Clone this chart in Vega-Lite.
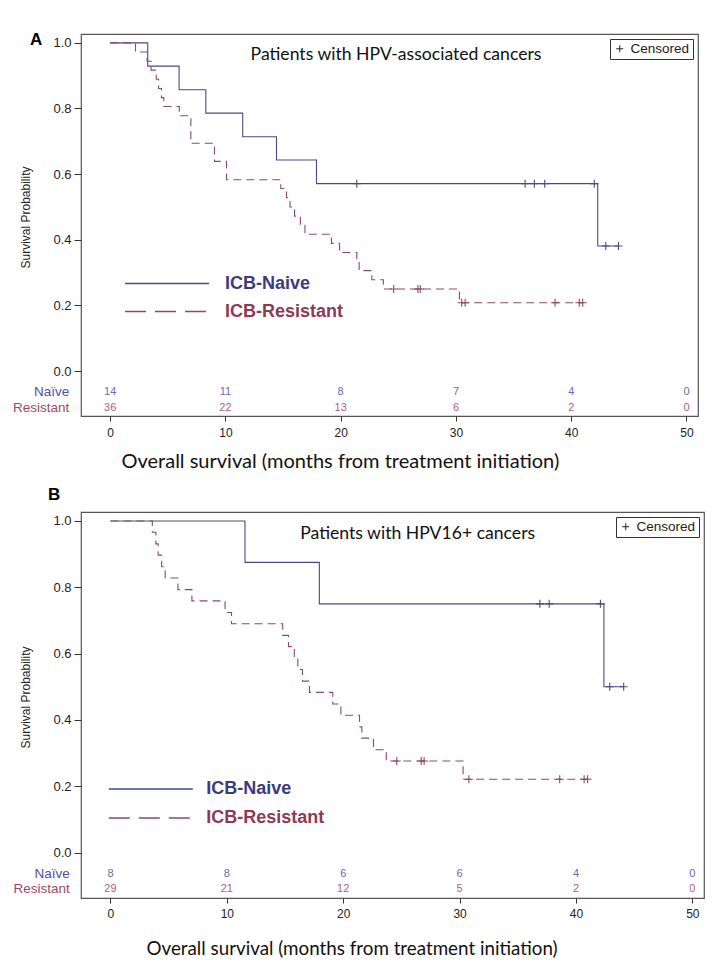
{
  "$schema": "https://vega.github.io/schema/vega-lite/v6.json",
  "padding": {"left": 12, "top": 30, "right": 20, "bottom": 6},
  "background": "white",
  "spacing": 13,
  "config": {
    "view": {"stroke": "#555", "strokeWidth": 1.2},
    "font": "Liberation Sans",
    "axis": {"grid": false, "domain": false, "tickColor": "#333", "labelColor": "#222", "titleFontWeight": "normal"}
  },
  "datasets": {
    "curves": [
      {"panel": "A", "group": "ICB-Naive", "time": 0, "surv": 1.0},
      {"panel": "A", "group": "ICB-Naive", "time": 3.26, "surv": 0.929},
      {"panel": "A", "group": "ICB-Naive", "time": 5.98, "surv": 0.857},
      {"panel": "A", "group": "ICB-Naive", "time": 8.3, "surv": 0.786},
      {"panel": "A", "group": "ICB-Naive", "time": 11.5, "surv": 0.714},
      {"panel": "A", "group": "ICB-Naive", "time": 14.43, "surv": 0.643},
      {"panel": "A", "group": "ICB-Naive", "time": 17.9, "surv": 0.571},
      {"panel": "A", "group": "ICB-Naive", "time": 42.3, "surv": 0.381},
      {"panel": "A", "group": "ICB-Naive", "time": 44.1, "surv": 0.381},
      {"panel": "A", "group": "ICB-Resistant", "time": 0, "surv": 1.0},
      {"panel": "A", "group": "ICB-Resistant", "time": 2.2, "surv": 0.972},
      {"panel": "A", "group": "ICB-Resistant", "time": 3.2, "surv": 0.944},
      {"panel": "A", "group": "ICB-Resistant", "time": 3.55, "surv": 0.917},
      {"panel": "A", "group": "ICB-Resistant", "time": 4.0, "surv": 0.889},
      {"panel": "A", "group": "ICB-Resistant", "time": 4.2, "surv": 0.861},
      {"panel": "A", "group": "ICB-Resistant", "time": 4.45, "surv": 0.833},
      {"panel": "A", "group": "ICB-Resistant", "time": 4.65, "surv": 0.806},
      {"panel": "A", "group": "ICB-Resistant", "time": 6.0, "surv": 0.778},
      {"panel": "A", "group": "ICB-Resistant", "time": 7.0, "surv": 0.694},
      {"panel": "A", "group": "ICB-Resistant", "time": 9.05, "surv": 0.639},
      {"panel": "A", "group": "ICB-Resistant", "time": 10.1, "surv": 0.583},
      {"panel": "A", "group": "ICB-Resistant", "time": 14.8, "surv": 0.556},
      {"panel": "A", "group": "ICB-Resistant", "time": 15.3, "surv": 0.528},
      {"panel": "A", "group": "ICB-Resistant", "time": 15.6, "surv": 0.5},
      {"panel": "A", "group": "ICB-Resistant", "time": 16.0, "surv": 0.472},
      {"panel": "A", "group": "ICB-Resistant", "time": 16.5, "surv": 0.444},
      {"panel": "A", "group": "ICB-Resistant", "time": 16.9, "surv": 0.417},
      {"panel": "A", "group": "ICB-Resistant", "time": 19.2, "surv": 0.389},
      {"panel": "A", "group": "ICB-Resistant", "time": 19.9, "surv": 0.361},
      {"panel": "A", "group": "ICB-Resistant", "time": 21.4, "surv": 0.333},
      {"panel": "A", "group": "ICB-Resistant", "time": 21.6, "surv": 0.306},
      {"panel": "A", "group": "ICB-Resistant", "time": 22.7, "surv": 0.278},
      {"panel": "A", "group": "ICB-Resistant", "time": 23.7, "surv": 0.25},
      {"panel": "A", "group": "ICB-Resistant", "time": 30.3, "surv": 0.208},
      {"panel": "A", "group": "ICB-Resistant", "time": 41.0, "surv": 0.208},
      {"panel": "B", "group": "ICB-Naive", "time": 0, "surv": 1.0},
      {"panel": "B", "group": "ICB-Naive", "time": 11.56, "surv": 0.875},
      {"panel": "B", "group": "ICB-Naive", "time": 17.95, "surv": 0.75},
      {"panel": "B", "group": "ICB-Naive", "time": 42.4, "surv": 0.5},
      {"panel": "B", "group": "ICB-Naive", "time": 44.1, "surv": 0.5},
      {"panel": "B", "group": "ICB-Resistant", "time": 0, "surv": 1.0},
      {"panel": "B", "group": "ICB-Resistant", "time": 3.6, "surv": 0.966},
      {"panel": "B", "group": "ICB-Resistant", "time": 3.9, "surv": 0.931},
      {"panel": "B", "group": "ICB-Resistant", "time": 4.1, "surv": 0.897},
      {"panel": "B", "group": "ICB-Resistant", "time": 4.4, "surv": 0.862},
      {"panel": "B", "group": "ICB-Resistant", "time": 4.7, "surv": 0.828},
      {"panel": "B", "group": "ICB-Resistant", "time": 5.8, "surv": 0.793},
      {"panel": "B", "group": "ICB-Resistant", "time": 7.0, "surv": 0.759},
      {"panel": "B", "group": "ICB-Resistant", "time": 9.85, "surv": 0.724},
      {"panel": "B", "group": "ICB-Resistant", "time": 10.4, "surv": 0.69},
      {"panel": "B", "group": "ICB-Resistant", "time": 14.8, "surv": 0.655},
      {"panel": "B", "group": "ICB-Resistant", "time": 15.3, "surv": 0.621},
      {"panel": "B", "group": "ICB-Resistant", "time": 15.8, "surv": 0.586},
      {"panel": "B", "group": "ICB-Resistant", "time": 16.1, "surv": 0.552},
      {"panel": "B", "group": "ICB-Resistant", "time": 16.5, "surv": 0.517},
      {"panel": "B", "group": "ICB-Resistant", "time": 17.1, "surv": 0.483},
      {"panel": "B", "group": "ICB-Resistant", "time": 19.1, "surv": 0.448},
      {"panel": "B", "group": "ICB-Resistant", "time": 19.8, "surv": 0.414},
      {"panel": "B", "group": "ICB-Resistant", "time": 21.4, "surv": 0.379},
      {"panel": "B", "group": "ICB-Resistant", "time": 21.6, "surv": 0.345},
      {"panel": "B", "group": "ICB-Resistant", "time": 22.6, "surv": 0.31},
      {"panel": "B", "group": "ICB-Resistant", "time": 23.7, "surv": 0.276},
      {"panel": "B", "group": "ICB-Resistant", "time": 30.3, "surv": 0.221},
      {"panel": "B", "group": "ICB-Resistant", "time": 41.0, "surv": 0.221}
    ],
    "censored": [
      {"panel": "A", "group": "ICB-Naive", "status": "Censored", "time": 21.4, "surv": 0.571},
      {"panel": "A", "group": "ICB-Naive", "status": "Censored", "time": 36.0, "surv": 0.571},
      {"panel": "A", "group": "ICB-Naive", "status": "Censored", "time": 36.8, "surv": 0.571},
      {"panel": "A", "group": "ICB-Naive", "status": "Censored", "time": 37.7, "surv": 0.571},
      {"panel": "A", "group": "ICB-Naive", "status": "Censored", "time": 42.0, "surv": 0.571},
      {"panel": "A", "group": "ICB-Naive", "status": "Censored", "time": 43.0, "surv": 0.381},
      {"panel": "A", "group": "ICB-Naive", "status": "Censored", "time": 44.1, "surv": 0.381},
      {"panel": "A", "group": "ICB-Resistant", "status": "Censored", "time": 24.6, "surv": 0.25},
      {"panel": "A", "group": "ICB-Resistant", "status": "Censored", "time": 26.7, "surv": 0.25},
      {"panel": "A", "group": "ICB-Resistant", "status": "Censored", "time": 26.9, "surv": 0.25},
      {"panel": "A", "group": "ICB-Resistant", "status": "Censored", "time": 30.5, "surv": 0.208},
      {"panel": "A", "group": "ICB-Resistant", "status": "Censored", "time": 30.8, "surv": 0.208},
      {"panel": "A", "group": "ICB-Resistant", "status": "Censored", "time": 38.6, "surv": 0.208},
      {"panel": "A", "group": "ICB-Resistant", "status": "Censored", "time": 40.7, "surv": 0.208},
      {"panel": "A", "group": "ICB-Resistant", "status": "Censored", "time": 41.0, "surv": 0.208},
      {"panel": "B", "group": "ICB-Naive", "status": "Censored", "time": 36.9, "surv": 0.75},
      {"panel": "B", "group": "ICB-Naive", "status": "Censored", "time": 37.7, "surv": 0.75},
      {"panel": "B", "group": "ICB-Naive", "status": "Censored", "time": 42.1, "surv": 0.75},
      {"panel": "B", "group": "ICB-Naive", "status": "Censored", "time": 42.9, "surv": 0.5},
      {"panel": "B", "group": "ICB-Naive", "status": "Censored", "time": 44.1, "surv": 0.5},
      {"panel": "B", "group": "ICB-Resistant", "status": "Censored", "time": 24.6, "surv": 0.276},
      {"panel": "B", "group": "ICB-Resistant", "status": "Censored", "time": 26.7, "surv": 0.276},
      {"panel": "B", "group": "ICB-Resistant", "status": "Censored", "time": 26.95, "surv": 0.276},
      {"panel": "B", "group": "ICB-Resistant", "status": "Censored", "time": 30.8, "surv": 0.221},
      {"panel": "B", "group": "ICB-Resistant", "status": "Censored", "time": 38.6, "surv": 0.221},
      {"panel": "B", "group": "ICB-Resistant", "status": "Censored", "time": 40.7, "surv": 0.221},
      {"panel": "B", "group": "ICB-Resistant", "status": "Censored", "time": 41.0, "surv": 0.221}
    ],
    "atrisk": [
      {"panel": "A", "group": "ICB-Naive", "time": 0, "n": 14},
      {"panel": "A", "group": "ICB-Naive", "time": 10, "n": 11},
      {"panel": "A", "group": "ICB-Naive", "time": 20, "n": 8},
      {"panel": "A", "group": "ICB-Naive", "time": 30, "n": 7},
      {"panel": "A", "group": "ICB-Naive", "time": 40, "n": 4},
      {"panel": "A", "group": "ICB-Naive", "time": 50, "n": 0},
      {"panel": "A", "group": "ICB-Resistant", "time": 0, "n": 36},
      {"panel": "A", "group": "ICB-Resistant", "time": 10, "n": 22},
      {"panel": "A", "group": "ICB-Resistant", "time": 20, "n": 13},
      {"panel": "A", "group": "ICB-Resistant", "time": 30, "n": 6},
      {"panel": "A", "group": "ICB-Resistant", "time": 40, "n": 2},
      {"panel": "A", "group": "ICB-Resistant", "time": 50, "n": 0},
      {"panel": "B", "group": "ICB-Naive", "time": 0, "n": 8},
      {"panel": "B", "group": "ICB-Naive", "time": 10, "n": 8},
      {"panel": "B", "group": "ICB-Naive", "time": 20, "n": 6},
      {"panel": "B", "group": "ICB-Naive", "time": 30, "n": 6},
      {"panel": "B", "group": "ICB-Naive", "time": 40, "n": 4},
      {"panel": "B", "group": "ICB-Naive", "time": 50, "n": 0},
      {"panel": "B", "group": "ICB-Resistant", "time": 0, "n": 29},
      {"panel": "B", "group": "ICB-Resistant", "time": 10, "n": 21},
      {"panel": "B", "group": "ICB-Resistant", "time": 20, "n": 12},
      {"panel": "B", "group": "ICB-Resistant", "time": 30, "n": 5},
      {"panel": "B", "group": "ICB-Resistant", "time": 40, "n": 2},
      {"panel": "B", "group": "ICB-Resistant", "time": 50, "n": 0}
    ],
    "headings": [
      {"panel": "A", "label": "Patients with HPV-associated cancers"},
      {"panel": "B", "label": "Patients with HPV16+ cancers"}
    ],
    "rowlabels": [
      {"group": "ICB-Naive", "label": "Naïve"},
      {"group": "ICB-Resistant", "label": "Resistant"}
    ]
  },
  "resolve": {
    "scale": {"x": "independent", "y": "independent", "color": "independent", "shape": "independent"},
    "legend": {"color": "independent", "shape": "independent"}
  },
  "vconcat": [
    {
      "width": 617,
      "height": 382,
      "title": {"text": "A", "anchor": "start", "frame": "group", "fontSize": 17, "fontWeight": "bold", "font": "Liberation Sans", "color": "#000", "baseline": "top", "offset": 0, "dx": -51, "dy": 15},
      "layer": [
        {
          "data": {"name": "curves"},
          "transform": [{"filter": "datum.panel === 'A' && datum.group === 'ICB-Naive'"}],
          "mark": {"type": "line", "interpolate": "step-after", "strokeWidth": 1.1},
          "encoding": {
            "x": {"field": "time", "type": "quantitative", "title": "Overall survival (months from treatment initiation)",
              "scale": {"domain": [-2.53, 51.0], "nice": false, "zero": false},
              "axis": {"values": [0, 10, 20, 30, 40, 50], "tickSize": 5, "labelFontSize": 12, "labelPadding": 6, "titleFont": "Lato", "titleFontSize": 20, "titleColor": "#111", "titlePadding": 13, "titleAnchor": "start", "titleAlign": "left", "titleX": 40}},
            "y": {"field": "surv", "type": "quantitative", "title": "Survival Probability",
              "scale": {"domain": [-0.137, 1.027], "nice": false, "zero": false},
              "axis": {"values": [0, 0.2, 0.4, 0.6, 0.8, 1.0], "format": ".1f", "tickSize": 7, "labelFontSize": 13, "labelPadding": 3, "titleFont": "Liberation Sans Narrow, Liberation Sans", "titleFontSize": 12, "titleColor": "#222", "titlePadding": 20, "titleY": 183}},
            "color": {"field": "group", "type": "nominal",
              "scale": {"domain": ["ICB-Naive", "ICB-Resistant"], "range": ["#4a4a86", "#8e4a62"]},
              "legend": {"orient": "none", "legendX": 74.5, "legendY": 238, "title": null, "symbolType": "M-4,0H4", "symbolSize": 441, "symbolStrokeWidth": 1.3, "symbolFillColor": "transparent", "labelFontSize": 18, "labelFont": "Liberation Sans", "labelFontWeight": "bold", "labelOffset": 46.5, "rowPadding": 7, "padding": 0,
                "encode": {"labels": {"update": {"fill": {"signal": "datum.value === 'ICB-Naive' ? '#3b3b7d' : '#8b3a57'"}}}, "symbols": {"update": {"strokeDash": {"signal": "datum.value === 'ICB-Naive' ? [1,0] : [21,9]"}}}}}}
          }
        },
        {
          "data": {"name": "curves"},
          "transform": [{"filter": "datum.panel === 'A' && datum.group === 'ICB-Resistant'"}],
          "mark": {"type": "line", "interpolate": "step-after", "strokeWidth": 1.1, "strokeDash": [8, 5]},
          "encoding": {
            "x": {"field": "time", "type": "quantitative", "title": "Overall survival (months from treatment initiation)"},
            "y": {"field": "surv", "type": "quantitative", "title": "Survival Probability"},
            "color": {"field": "group", "type": "nominal", "legend": null}
          }
        },
        {
          "data": {"name": "censored"},
          "transform": [{"filter": "datum.panel === 'A'"}],
          "mark": {"type": "point", "filled": false, "size": 64, "strokeWidth": 1.1, "opacity": 1},
          "encoding": {
            "x": {"field": "time", "type": "quantitative", "title": "Overall survival (months from treatment initiation)"},
            "y": {"field": "surv", "type": "quantitative", "title": "Survival Probability"},
            "color": {"field": "group", "type": "nominal", "legend": null},
            "shape": {"field": "status", "type": "nominal", "scale": {"range": ["M0,-1V1M-1,0H1"]},
              "legend": {"orient": "top-right", "offset": 5, "title": null, "strokeColor": "#333", "padding": 3, "labelFontSize": 13.5, "labelColor": "#222", "symbolSize": 49, "symbolStrokeColor": "#222", "symbolStrokeWidth": 1, "symbolFillColor": "transparent", "labelOffset": 4}}
          }
        },
        {
          "data": {"name": "headings"},
          "transform": [{"filter": "datum.panel === 'A'"}],
          "mark": {"type": "text", "font": "Lato", "fontSize": 17.6, "color": "#111", "align": "center", "baseline": "middle"},
          "encoding": {
            "x": {"datum": 24.8, "type": "quantitative", "title": "Overall survival (months from treatment initiation)"},
            "y": {"datum": 0.963, "type": "quantitative", "title": "Survival Probability"},
            "text": {"field": "label"}
          }
        },
        {
          "data": {"name": "atrisk"},
          "transform": [{"filter": "datum.panel === 'A' && datum.group === 'ICB-Naive'"}],
          "mark": {"type": "text", "font": "Liberation Sans Narrow, Liberation Sans", "fontSize": 11, "color": "#6a6ab4", "baseline": "middle"},
          "encoding": {
            "x": {"field": "time", "type": "quantitative", "title": "Overall survival (months from treatment initiation)"},
            "y": {"datum": -0.065, "type": "quantitative", "title": "Survival Probability"},
            "text": {"field": "n"}
          }
        },
        {
          "data": {"name": "atrisk"},
          "transform": [{"filter": "datum.panel === 'A' && datum.group === 'ICB-Resistant'"}],
          "mark": {"type": "text", "font": "Liberation Sans Narrow, Liberation Sans", "fontSize": 11, "color": "#b0607e", "baseline": "middle"},
          "encoding": {
            "x": {"field": "time", "type": "quantitative", "title": "Overall survival (months from treatment initiation)"},
            "y": {"datum": -0.112, "type": "quantitative", "title": "Survival Probability"},
            "text": {"field": "n"}
          }
        },
        {
          "data": {"name": "rowlabels"},
          "transform": [{"filter": "datum.group === 'ICB-Naive'"}],
          "mark": {"type": "text", "font": "Liberation Sans Narrow, Liberation Sans", "fontSize": 13.5, "color": "#4f4fa0", "align": "right", "baseline": "middle"},
          "encoding": {
            "x": {"datum": -3.55, "type": "quantitative", "title": "Overall survival (months from treatment initiation)"},
            "y": {"datum": -0.065, "type": "quantitative", "title": "Survival Probability"},
            "text": {"field": "label"}
          }
        },
        {
          "data": {"name": "rowlabels"},
          "transform": [{"filter": "datum.group === 'ICB-Resistant'"}],
          "mark": {"type": "text", "font": "Liberation Sans Narrow, Liberation Sans", "fontSize": 13.5, "color": "#9e4868", "align": "right", "baseline": "middle"},
          "encoding": {
            "x": {"datum": -3.55, "type": "quantitative", "title": "Overall survival (months from treatment initiation)"},
            "y": {"datum": -0.112, "type": "quantitative", "title": "Survival Probability"},
            "text": {"field": "label"}
          }
        }
      ]
    },
    {
      "width": 623,
      "height": 386,
      "title": {"text": "B", "anchor": "start", "frame": "group", "fontSize": 17, "fontWeight": "bold", "font": "Liberation Sans", "color": "#000", "offset": 8, "dx": -33},
      "layer": [
        {
          "data": {"name": "curves"},
          "transform": [{"filter": "datum.panel === 'B' && datum.group === 'ICB-Naive'"}],
          "mark": {"type": "line", "interpolate": "step-after", "strokeWidth": 1.1},
          "encoding": {
            "x": {"field": "time", "type": "quantitative", "title": "Overall survival (months from treatment initiation)",
              "scale": {"domain": [-2.53, 51.0], "nice": false, "zero": false},
              "axis": {"values": [0, 10, 20, 30, 40, 50], "tickSize": 5, "labelFontSize": 12, "labelPadding": 5, "titleFont": "Lato", "titleFontSize": 18.8, "titleColor": "#111", "titlePadding": 20, "titleAnchor": "start", "titleAlign": "left", "titleX": 65}},
            "y": {"field": "surv", "type": "quantitative", "title": "Survival Probability",
              "scale": {"domain": [-0.137, 1.027], "nice": false, "zero": false},
              "axis": {"values": [0, 0.2, 0.4, 0.6, 0.8, 1.0], "format": ".1f", "tickSize": 7, "labelFontSize": 13, "labelPadding": 3, "titleFont": "Liberation Sans Narrow, Liberation Sans", "titleFontSize": 12, "titleColor": "#222", "titlePadding": 20, "titleY": 185}},
            "color": {"field": "group", "type": "nominal",
              "scale": {"domain": ["ICB-Naive", "ICB-Resistant"], "range": ["#4a4a86", "#8e4a62"]},
              "legend": {"orient": "none", "legendX": 58.3, "legendY": 265.5, "title": null, "symbolType": "M-4,0H4", "symbolSize": 441, "symbolStrokeWidth": 1.3, "symbolFillColor": "transparent", "labelFontSize": 18, "labelFont": "Liberation Sans", "labelFontWeight": "bold", "labelOffset": 44, "rowPadding": 8, "padding": 0,
                "encode": {"labels": {"update": {"fill": {"signal": "datum.value === 'ICB-Naive' ? '#3b3b7d' : '#8b3a57'"}}}, "symbols": {"update": {"strokeDash": {"signal": "datum.value === 'ICB-Naive' ? [1,0] : [21,9]"}}}}}}
          }
        },
        {
          "data": {"name": "curves"},
          "transform": [{"filter": "datum.panel === 'B' && datum.group === 'ICB-Resistant'"}],
          "mark": {"type": "line", "interpolate": "step-after", "strokeWidth": 1.1, "strokeDash": [8, 5]},
          "encoding": {
            "x": {"field": "time", "type": "quantitative", "title": "Overall survival (months from treatment initiation)"},
            "y": {"field": "surv", "type": "quantitative", "title": "Survival Probability"},
            "color": {"field": "group", "type": "nominal", "legend": null}
          }
        },
        {
          "data": {"name": "censored"},
          "transform": [{"filter": "datum.panel === 'B'"}],
          "mark": {"type": "point", "filled": false, "size": 64, "strokeWidth": 1.1, "opacity": 1},
          "encoding": {
            "x": {"field": "time", "type": "quantitative", "title": "Overall survival (months from treatment initiation)"},
            "y": {"field": "surv", "type": "quantitative", "title": "Survival Probability"},
            "color": {"field": "group", "type": "nominal", "legend": null},
            "shape": {"field": "status", "type": "nominal", "scale": {"range": ["M0,-1V1M-1,0H1"]},
              "legend": {"orient": "top-right", "offset": 5, "title": null, "strokeColor": "#333", "padding": 3, "labelFontSize": 13.5, "labelColor": "#222", "symbolSize": 49, "symbolStrokeColor": "#222", "symbolStrokeWidth": 1, "symbolFillColor": "transparent", "labelOffset": 4}}
          }
        },
        {
          "data": {"name": "headings"},
          "transform": [{"filter": "datum.panel === 'B'"}],
          "mark": {"type": "text", "font": "Lato", "fontSize": 17.6, "color": "#111", "align": "center", "baseline": "middle"},
          "encoding": {
            "x": {"datum": 26.4, "type": "quantitative", "title": "Overall survival (months from treatment initiation)"},
            "y": {"datum": 0.962, "type": "quantitative", "title": "Survival Probability"},
            "text": {"field": "label"}
          }
        },
        {
          "data": {"name": "atrisk"},
          "transform": [{"filter": "datum.panel === 'B' && datum.group === 'ICB-Naive'"}],
          "mark": {"type": "text", "font": "Liberation Sans Narrow, Liberation Sans", "fontSize": 11, "color": "#6a6ab4", "baseline": "middle"},
          "encoding": {
            "x": {"field": "time", "type": "quantitative", "title": "Overall survival (months from treatment initiation)"},
            "y": {"datum": -0.064, "type": "quantitative", "title": "Survival Probability"},
            "text": {"field": "n"}
          }
        },
        {
          "data": {"name": "atrisk"},
          "transform": [{"filter": "datum.panel === 'B' && datum.group === 'ICB-Resistant'"}],
          "mark": {"type": "text", "font": "Liberation Sans Narrow, Liberation Sans", "fontSize": 11, "color": "#b0607e", "baseline": "middle"},
          "encoding": {
            "x": {"field": "time", "type": "quantitative", "title": "Overall survival (months from treatment initiation)"},
            "y": {"datum": -0.11, "type": "quantitative", "title": "Survival Probability"},
            "text": {"field": "n"}
          }
        },
        {
          "data": {"name": "rowlabels"},
          "transform": [{"filter": "datum.group === 'ICB-Naive'"}],
          "mark": {"type": "text", "font": "Liberation Sans Narrow, Liberation Sans", "fontSize": 13.5, "color": "#4f4fa0", "align": "right", "baseline": "middle"},
          "encoding": {
            "x": {"datum": -3.5, "type": "quantitative", "title": "Overall survival (months from treatment initiation)"},
            "y": {"datum": -0.064, "type": "quantitative", "title": "Survival Probability"},
            "text": {"field": "label"}
          }
        },
        {
          "data": {"name": "rowlabels"},
          "transform": [{"filter": "datum.group === 'ICB-Resistant'"}],
          "mark": {"type": "text", "font": "Liberation Sans Narrow, Liberation Sans", "fontSize": 13.5, "color": "#9e4868", "align": "right", "baseline": "middle"},
          "encoding": {
            "x": {"datum": -3.5, "type": "quantitative", "title": "Overall survival (months from treatment initiation)"},
            "y": {"datum": -0.11, "type": "quantitative", "title": "Survival Probability"},
            "text": {"field": "label"}
          }
        }
      ]
    }
  ]
}
